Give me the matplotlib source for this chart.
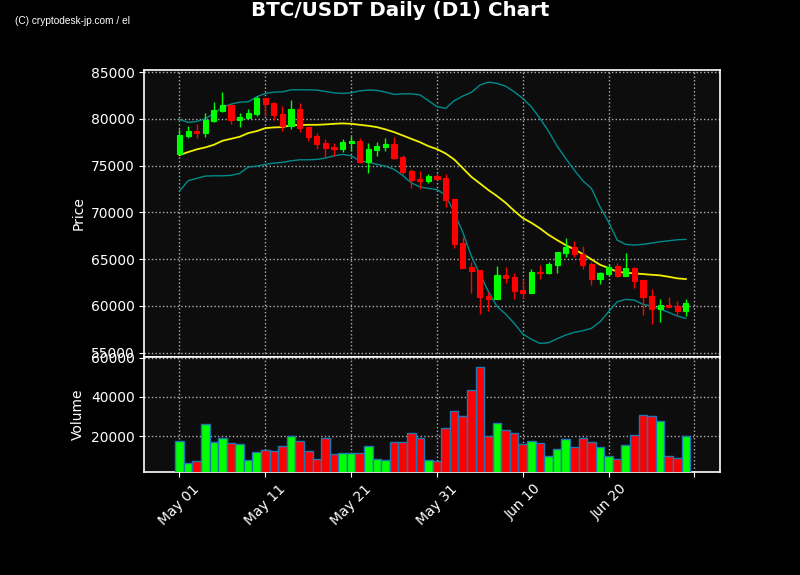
#!/usr/bin/env python3
"""BTC/USDT daily candlestick chart with Bollinger bands and volume panel."""
import matplotlib
matplotlib.use("Agg")
import matplotlib.pyplot as plt
import pandas as pd
from matplotlib.ticker import FuncFormatter, MultipleLocator

OUTPUT = "out.png"

dates = pd.date_range("2024-05-01", periods=60, freq="D")

opens = [76266, 78158, 78693, 78511, 79762, 80863, 81472, 79901, 80115, 80510,
         82221, 81686, 80510, 79259, 81045, 79088, 78158, 77378, 76983, 76769,
         77442, 77624, 75411, 76662, 76983, 77335, 75946, 74417, 73594, 73380,
         73914, 73669, 71392, 66720, 64154, 63834, 61054, 60734, 63299, 63085,
         61696, 61407, 63652, 63513, 64368, 65651, 66260, 65580, 64475, 62893,
         63438, 64261, 63214, 64048, 62733, 61033, 59686, 60071, 59964, 59472]
closes = [78265, 78693, 78511, 79837, 80938, 81472, 79901, 80190, 80617, 82253,
          81611, 80403, 79227, 81045, 79046, 78084, 77335, 76908, 76769, 77517,
          77656, 75411, 76769, 77089, 77335, 75807, 74310, 73455, 73380, 73882,
          73594, 71317, 66645, 64080, 63759, 60980, 60734, 63299, 63011, 61621,
          61375, 63620, 63513, 64475, 65758, 66292, 65544, 64390, 62893, 63545,
          64208, 63192, 64026, 62690, 60980, 59697, 60071, 59900, 59472, 60306]
highs = [78875, 79227, 79409, 80649, 81761, 82830, 81526, 80585, 81013, 82466,
         82274, 81761, 81333, 81975, 81654, 79120, 78511, 77806, 77442, 77806,
         78158, 77913, 77378, 77485, 77913, 78019, 76095, 74599, 74449, 74064,
         74235, 74064, 71424, 67394, 64721, 63866, 61450, 64229, 64122, 63481,
         62840, 63909, 64336, 64721, 65790, 67223, 66934, 66367, 64721, 63652,
         64443, 64550, 65619, 64187, 62765, 61803, 60702, 60915, 60488, 60702]
lows = [76202, 77977, 77977, 78084, 79687, 80692, 79409, 79088, 80051, 80296,
        80328, 79869, 78725, 78875, 78618, 77592, 76737, 75946, 76020, 76480,
        76587, 75304, 74235, 76052, 76587, 75668, 74096, 72568, 72461, 73166,
        73530, 70601, 66154, 64015, 61343, 59098, 59451, 60702, 62412, 60702,
        60734, 61375, 62850, 63374, 63567, 65277, 65256, 63909, 62198, 62305,
        63192, 63118, 63192, 61878, 59077, 58040, 58328, 59846, 58884, 58884]
volumes = [17590, 6150, 7330, 26150, 16920, 18970, 16410, 15900, 7690, 11790,
           12970, 12460, 14870, 20000, 17590, 12460, 8360, 19130, 10770, 11280,
           11280, 11440, 14870, 8360, 7690, 16920, 16920, 21540, 18970, 7690,
           7180, 24100, 32820, 30260, 43590, 55380, 20000, 26670, 23080, 21540,
           15900, 17440, 16410, 9740, 13330, 18460, 14360, 18970, 16920, 14360,
           9740, 8360, 15380, 20510, 30770, 30260, 27690, 9740, 8720, 20000]

bb_upper = [79944, 79623, 79730, 80008, 80585, 81226, 81579, 81793, 81825, 82360,
            82723, 82862, 82894, 83108, 83108, 83108, 83076, 82937, 82787, 82723,
            82787, 83001, 83076, 83044, 82862, 82616, 82680, 82680, 82573, 81953,
            81312, 81120, 81932, 82434, 82830, 83610, 83931, 83792, 83503, 82894,
            82189, 81291, 80051, 78693, 77089, 75775, 74524, 73380, 72568, 70601,
            68965, 67041, 66581, 66506, 66581, 66720, 66859, 66966, 67073, 67116]
bb_mid = [76127, 76448, 76737, 76950, 77228, 77656, 77870, 78084, 78479, 78693,
          79014, 79088, 79120, 79334, 79334, 79366, 79366, 79409, 79473, 79516,
          79473, 79366, 79259, 79120, 78875, 78586, 78233, 77870, 77517, 77089,
          76769, 76309, 75668, 74738, 73808, 73102, 72386, 71744, 71028, 70173,
          69393, 68890, 68292, 67607, 67041, 66506, 66047, 65544, 64978, 64400,
          64048, 63652, 63545, 63481, 63406, 63331, 63267, 63118, 62947, 62872]
bb_lower = [72279, 73380, 73637, 73882, 73914, 73914, 73957, 74171, 74844, 74951,
            75133, 75272, 75347, 75518, 75625, 75625, 75668, 75807, 76052, 76202,
            76052, 75518, 75379, 75133, 74951, 74599, 73957, 73166, 72739, 72568,
            72439, 71851, 70034, 67896, 65330, 63406, 61535, 59932, 59130, 58136,
            56992, 56426, 55998, 56062, 56490, 56885, 57174, 57345, 57602, 58307,
            59376, 60445, 60702, 60627, 60167, 59985, 59665, 59312, 58916, 58671]

UP = "#00ff00"
DOWN = "#ff0000"
PANEL_BG = "#0d0d0d"
GRID = dict(color="#b0b0b0", linestyle=":", linewidth=1.0)


def style_axis(ax):
    ax.set_facecolor(PANEL_BG)
    ax.tick_params(colors="white", labelsize=10)
    for spine in ax.spines.values():
        spine.set_color("white")
        spine.set_linewidth(1.2)
    ax.grid(True, **GRID)
    ax.set_axisbelow(True)


def main():
    n = len(dates)
    x = list(range(n))
    colors = [UP if c >= o else DOWN for o, c in zip(opens, closes)]

    fig = plt.figure(figsize=(8, 5.75), dpi=100)
    fig.patch.set_facecolor("black")

    ax = fig.add_axes([0.1806, 0.3795, 0.7194, 0.4988])
    axv = fig.add_axes([0.1806, 0.1791, 0.7194, 0.2004], sharex=ax)
    style_axis(ax)
    style_axis(axv)

    # candles: wick first, body on top
    ax.vlines(x, lows, highs, colors=colors, linewidth=1.0, zorder=3)
    bottoms = [min(o, c) for o, c in zip(opens, closes)]
    heights = [abs(c - o) for o, c in zip(opens, closes)]
    ax.bar(x, heights, bottom=bottoms, width=0.6, color=colors,
           edgecolor=colors, linewidth=0.8, zorder=4)

    ax.plot(x, bb_upper, color="#008b8b", linewidth=1.0, zorder=2)
    ax.plot(x, bb_lower, color="#008b8b", linewidth=1.0, zorder=2)
    ax.plot(x, bb_mid, color="#f0f000", linewidth=1.3, zorder=2)

    ax.set_ylim(54560, 85230)
    ax.set_ylabel("Price", color="white", fontsize=10)
    ax.tick_params(axis="x", labelbottom=False)

    axv.bar(x, volumes, width=1.0, color=colors, edgecolor="#1f77b4",
            linewidth=1.0, zorder=3)
    axv.set_ylim(1700, 60500)
    axv.set_ylabel("Volume", color="white", fontsize=10)

    axv.set_xlim(-4.08, 62.98)
    axv.xaxis.set_major_locator(MultipleLocator(10))

    def date_label(val, pos):
        i = int(round(val))
        if 0 <= i < n:
            return dates[i].strftime("%b %d")
        return ""

    axv.xaxis.set_major_formatter(FuncFormatter(date_label))
    plt.setp(axv.get_xticklabels(), rotation=45)

    fig.text(0.5, 1 - 11 / 575, "BTC/USDT Daily (D1) Chart", ha="center",
             va="center", color="white", fontsize=14.3, fontweight="bold")
    fig.text(15 / 800, 1 - 21 / 575, "(C) cryptodesk-jp.com / el",
             ha="left", va="center", color="white", fontsize=7.3,
             family="Liberation Sans")

    fig.savefig(OUTPUT, dpi=100, facecolor=fig.get_facecolor())
    plt.close(fig)


if __name__ == "__main__":
    main()
